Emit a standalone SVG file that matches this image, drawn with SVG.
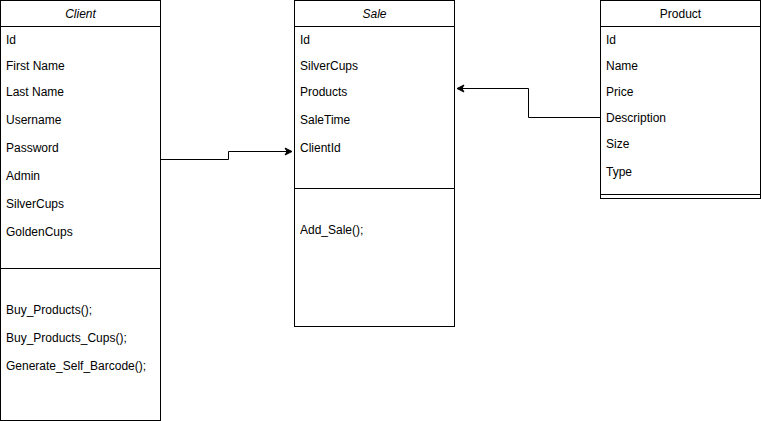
<svg xmlns="http://www.w3.org/2000/svg" width="761" height="421" viewBox="0 0 761 421">
<style>
.box{fill:#fff;stroke:#000;stroke-width:1}
.ln{stroke:#000;stroke-width:1;fill:none}
text{font-family:"Liberation Sans",Arial,sans-serif;font-size:12px;fill:#000}
.h{text-anchor:middle}
.i{font-style:italic}
</style>
<defs>
<marker id="arr" markerWidth="10" markerHeight="10" refX="8" refY="5" orient="auto" markerUnits="userSpaceOnUse">
<path d="M1,1.5 L8,5 L1,8.5 L3,5 Z" fill="#000" stroke="#000" stroke-width="1"/>
</marker>
</defs>
<g id="connectors">
<path class="ln" d="M160.5,159.5 H228.5 V151.5 H292" marker-end="url(#arr)"/>
<path class="ln" d="M600.5,117.5 H528.5 V88.5 H457" marker-end="url(#arr)"/>
</g>
<g id="client">
<rect class="box" x="0.5" y="0.5" width="160" height="420"/>
<line class="ln" x1="0.5" y1="26.5" x2="160.5" y2="26.5"/>
<line class="ln" x1="0.5" y1="268.5" x2="160.5" y2="268.5"/>
<text class="h i" x="80.5" y="18">Client</text>
<text x="6" y="44">Id</text>
<text x="6" y="70">First Name</text>
<text x="6" y="96">Last Name</text>
<text x="6" y="124">Username</text>
<text x="6" y="152">Password</text>
<text x="6" y="180">Admin</text>
<text x="6" y="208">SilverCups</text>
<text x="6" y="236">GoldenCups</text>
<text x="6" y="314">Buy_Products();</text>
<text x="6" y="342">Buy_Products_Cups();</text>
<text x="6" y="370">Generate_Self_Barcode();</text>
</g>
<g id="sale">
<rect class="box" x="294.5" y="0.5" width="160" height="326"/>
<line class="ln" x1="294.5" y1="26.5" x2="454.5" y2="26.5"/>
<line class="ln" x1="294.5" y1="188.5" x2="454.5" y2="188.5"/>
<text class="h i" x="374.5" y="18">Sale</text>
<text x="300" y="44">Id</text>
<text x="300" y="70">SilverCups</text>
<text x="300" y="96">Products</text>
<text x="300" y="124">SaleTime</text>
<text x="300" y="152">ClientId</text>
<text x="300" y="234">Add_Sale();</text>
</g>
<g id="product">
<rect class="box" x="600.5" y="0.5" width="160" height="198"/>
<line class="ln" x1="600.5" y1="26.5" x2="760.5" y2="26.5"/>
<line class="ln" x1="600.5" y1="194.5" x2="760.5" y2="194.5"/>
<text class="h" x="680.5" y="18">Product</text>
<text x="606" y="44">Id</text>
<text x="606" y="70">Name</text>
<text x="606" y="96">Price</text>
<text x="606" y="122">Description</text>
<text x="606" y="148">Size</text>
<text x="606" y="176">Type</text>
</g>
</svg>
